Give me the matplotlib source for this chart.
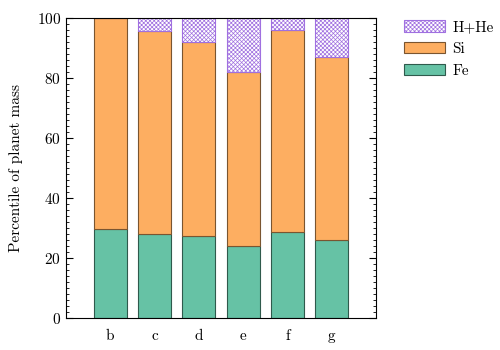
import matplotlib
matplotlib.use('Agg')
import matplotlib.pyplot as plt
from matplotlib.ticker import MultipleLocator
import numpy as np

plt.rcParams['font.family'] = 'serif'
plt.rcParams['font.serif'] = ['cmr10', 'DejaVu Serif']
plt.rcParams['mathtext.fontset'] = 'cm'
plt.rcParams['axes.formatter.use_mathtext'] = True
plt.rcParams['hatch.linewidth'] = 0.5

planets = ['b', 'c', 'd', 'e', 'f', 'g']
fe = [29.6, 28.2, 27.3, 24.2, 28.6, 25.9]
si = [70.4, 67.4, 64.7, 57.8, 67.6, 61.2]
hhe = [0.0, 4.4, 8.0, 18.0, 3.8, 12.9]

x = np.arange(1, len(planets) + 1)
width = 0.75

fig, ax = plt.subplots(figsize=(5, 3.5), dpi=100)
fig.subplots_adjust(left=0.132, right=0.752, top=0.948, bottom=0.091)

ax.bar(x, fe, width, color='#66c2a5', edgecolor='#2f5a4c', linewidth=0.8,
       label='Fe')
ax.bar(x, si, width, bottom=fe, color='#fdae61', edgecolor='#7a5530',
       linewidth=0.8, label='Si')
bottom2 = np.array(fe) + np.array(si)
ax.bar(x, hhe, width, bottom=bottom2, color='white', edgecolor='#a070e0',
       hatch='xxxxxxxx', linewidth=0.8, label='H+He')

ax.set_xlim(0, 7)
ax.set_ylim(0, 100)
ax.set_xticks(x)
ax.set_xticklabels(planets)
ax.tick_params(axis='x', length=0, pad=8, labelsize=11)
ax.yaxis.set_major_locator(MultipleLocator(20))
ax.yaxis.set_minor_locator(MultipleLocator(2))
ax.tick_params(axis='y', which='both', direction='in', left=True, right=True,
               labelsize=11)
ax.tick_params(axis='y', which='major', length=5)
ax.tick_params(axis='y', which='minor', length=2.5)
ax.set_ylabel('Percentile of planet mass', fontsize=11, labelpad=10)

handles, labels = ax.get_legend_handles_labels()
ax.legend(handles[::-1], labels[::-1], loc='upper left',
          bbox_to_anchor=(1.045, 1.04), frameon=False, fontsize=11,
          handlelength=2.7, handleheight=0.8, handletextpad=0.5,
          labelspacing=0.5)

fig.savefig('out.png', dpi=100)
